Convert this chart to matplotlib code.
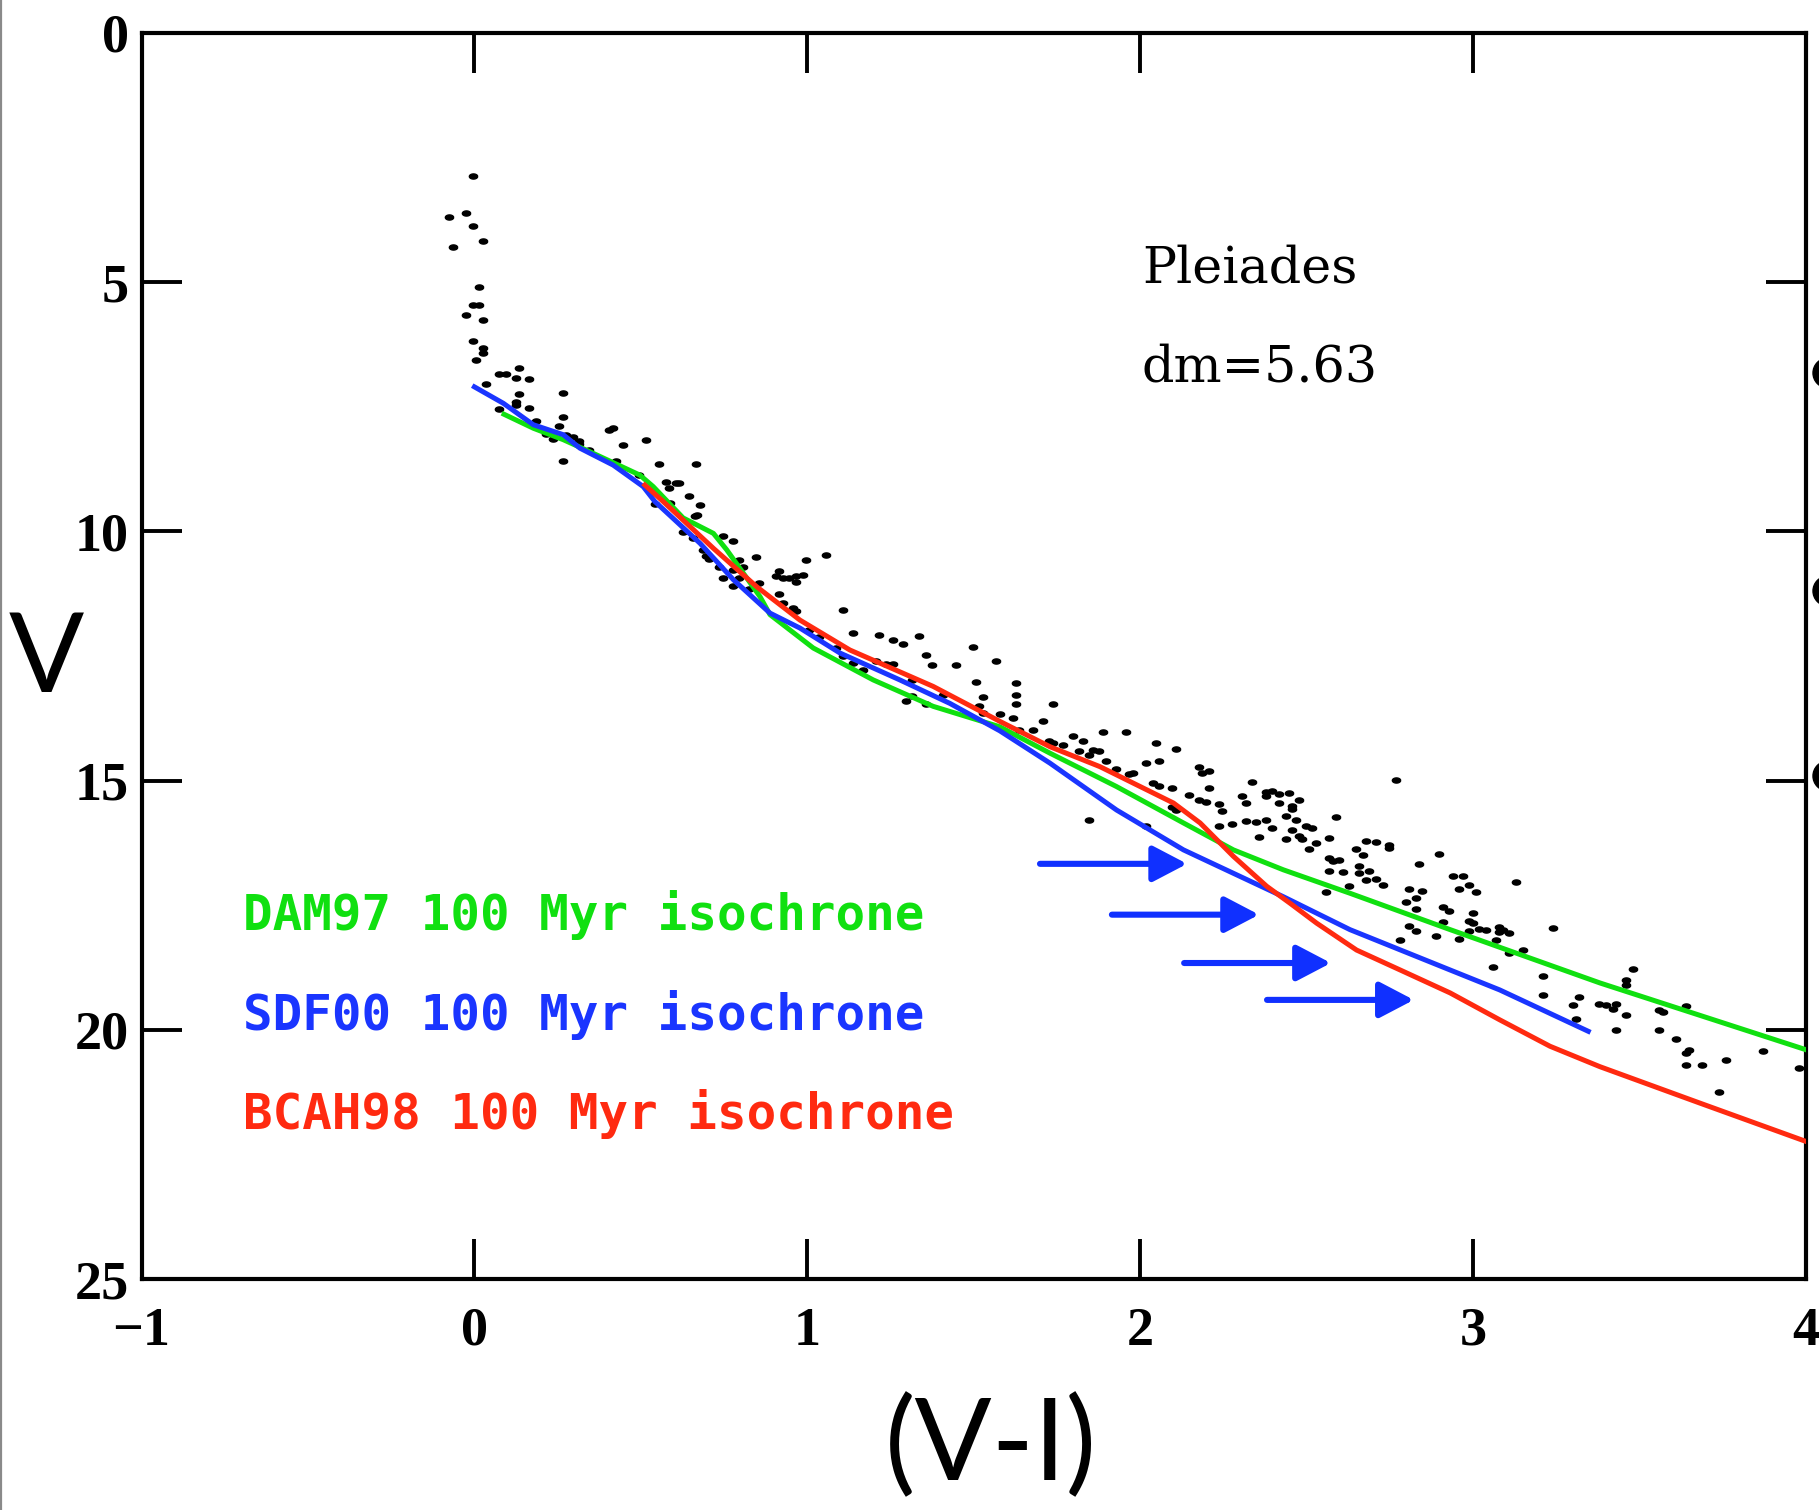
import numpy as np
import matplotlib
matplotlib.use('Agg')
import matplotlib.pyplot as plt
from matplotlib.patches import Ellipse
from matplotlib.lines import Line2D

# ---------------- data ----------------
star_x = [-0.005, -0.075, -0.026, -0.005, -0.065, 0.025, 0.015, -0.005, 0.015, -0.025, 0.025, -0.005,
          0.025, 0.025, 0.005, 0.075, 0.095, 0.135, 0.125, 0.165, 0.035, 0.135, 0.125, 0.125, 0.075,
          0.165, 0.265, 0.185, 0.265, 0.255, 0.215, 0.235, 0.275, 0.295, 0.315, 0.315, 0.265, 0.345,
          0.405, 0.415, 0.445, 0.515, 0.425, 0.495, 0.555, 0.665, 0.575, 0.605, 0.615, 0.585, 0.645,
          0.543, 0.588, 0.678, 0.668, 0.663, 0.626, 0.656, 0.746, 0.776, 0.686, 0.696, 0.706, 0.796,
          0.846, 0.996, 1.056, 0.736, 0.776, 0.806, 0.916, 0.906, 0.926, 0.946, 0.966, 0.986, 0.966,
          0.746, 0.796, 0.776, 0.856, 0.826, 0.916, 0.926, 0.956, 0.966, 1.106, 1.006, 1.036, 1.136,
          1.216, 1.256, 1.286, 1.336, 1.086, 1.106, 1.356, 1.376, 1.447, 1.497, 1.567, 1.136, 1.166,
          1.206, 1.236, 1.256, 1.316, 1.296, 1.316, 1.356, 1.407, 1.507, 1.527, 1.517, 1.527,
          1.627, 1.627, 1.627, 1.737, 1.579, 1.617, 1.707, 1.637, 1.677, 1.727, 1.737, 1.767, 1.797,
          1.827, 1.817, 1.847, 1.857, 1.877, 1.887, 1.957, 1.897, 1.927, 1.967, 1.977, 1.847, 2.017,
          2.057, 2.047, 2.107, 2.037, 2.057, 2.097, 2.097, 2.107, 2.017, 2.147, 2.177, 2.177, 2.187,
          2.207, 2.207, 2.197, 2.237, 2.247, 2.237, 2.277, 2.317, 2.307, 2.317, 2.337, 2.347, 2.377,
          2.397, 2.377, 2.417, 2.447, 2.417, 2.457, 2.457, 2.477, 2.377, 2.397, 2.437, 2.467, 2.497,
          2.437, 2.457, 2.477, 2.487, 2.517, 2.527, 2.507, 2.358, 2.568, 2.588, 2.558, 2.568, 2.578,
          2.598, 2.568, 2.608, 2.628, 2.648, 2.678, 2.708, 2.668, 2.658, 2.688, 2.658, 2.678, 2.708,
          2.728, 2.748, 2.748, 2.768,
          2.898, 2.838, 2.939, 2.969, 3.129, 2.808, 2.848, 2.959, 2.989, 3.009, 2.828, 2.798, 2.828,
          2.909, 2.929, 2.999, 2.909, 2.989, 2.999, 2.808, 2.828, 2.888, 2.959, 2.989, 3.019, 3.039,
          3.079, 3.089, 3.079, 3.109, 3.069, 3.239, 2.780, 3.109, 3.149, 3.059, 3.209, 3.209, 3.479,
          3.459, 3.459, 3.319, 3.299, 3.309, 3.379, 3.399, 3.419, 3.429, 3.459, 3.429, 3.559, 3.569,
          3.559, 3.639, 3.609, 3.649, 3.639, 3.639, 3.689, 3.760, 3.740, 3.870, 3.980]
star_v = [2.87, 3.70, 3.62, 3.87, 4.30, 4.17, 5.09, 5.46, 5.46, 5.65, 5.76, 6.17,
          6.33, 6.43, 6.57, 6.84, 6.84, 6.72, 6.93, 6.95, 7.04, 7.24, 7.41, 7.46, 7.55,
          7.52, 7.22, 7.78, 7.71, 7.88, 8.05, 8.14, 8.06, 8.11, 8.18, 8.24, 8.59, 8.37,
          7.96, 7.92, 8.27, 8.16, 8.58, 8.87, 8.64, 8.65, 9.00, 9.03, 9.03, 9.13, 9.28,
          9.45, 9.43, 9.47, 9.67, 9.70, 10.02, 10.14, 10.10, 10.20, 10.37, 10.50, 10.56, 10.57,
          10.52, 10.58, 10.48, 10.71, 10.77, 10.71, 10.79, 10.89, 10.94, 10.94, 10.89, 10.87, 11.02,
          10.94, 10.94, 11.09, 11.03, 11.16, 11.26, 11.44, 11.54, 11.59, 11.57, 11.98, 12.11, 12.04,
          12.08, 12.18, 12.26, 12.10, 12.34, 12.51, 12.49, 12.69, 12.68, 12.32, 12.61, 12.64, 12.78,
          12.61, 12.66, 12.66, 12.98, 13.40, 13.31, 13.46, 13.29, 13.03, 13.33, 13.51, 13.65,
          13.05, 13.29, 13.47, 13.46, 13.66, 13.75, 13.80, 13.98, 13.98, 14.20, 14.24, 14.28, 14.10,
          14.20, 14.40, 14.48, 14.38, 14.40, 14.02, 14.02, 14.60, 14.76, 14.86, 14.84, 15.80, 14.64,
          14.60, 14.25, 14.37, 15.04, 15.10, 15.15, 15.53, 15.59, 15.91, 15.29, 15.39, 14.73, 14.84,
          14.80, 15.15, 15.42, 15.47, 15.62, 15.92, 15.87, 15.82, 15.31, 15.44, 15.02, 15.84, 15.22,
          15.21, 15.31, 15.27, 15.24, 15.45, 15.51, 15.57, 15.39, 15.80, 15.95, 15.72, 15.80, 15.92,
          16.18, 15.99, 16.12, 16.18, 15.95, 16.26, 16.38, 16.14, 16.16, 15.74, 17.24, 16.56, 16.62,
          16.60, 16.81, 16.84, 17.11, 16.38, 16.22, 16.24, 16.49, 16.71, 16.82, 16.86, 16.99, 16.98,
          17.09, 16.29, 16.36, 14.98,
          16.47, 16.67, 16.91, 16.92, 17.04, 17.18, 17.22, 17.18, 17.09, 17.24, 17.35, 17.44, 17.57,
          17.54, 17.61, 17.65, 17.84, 17.81, 17.86, 17.91, 18.01, 18.11, 18.18, 18.01, 17.98, 17.99,
          17.94, 17.99, 18.03, 18.06, 18.19, 17.95, 18.19, 18.46, 18.40, 18.74, 18.92, 19.30, 18.78,
          19.01, 19.10, 19.34, 19.51, 19.78, 19.48, 19.50, 19.59, 19.48, 19.71, 20.00, 19.61, 19.65,
          20.01, 19.52, 20.18, 20.41, 20.47, 20.71, 20.71, 20.61, 21.25, 20.42, 20.76]

dam97_x = [0.089, 0.177, 0.267, 0.33, 0.497, 0.537, 0.627, 0.718, 0.758, 0.858, 0.888, 1.018,
           1.198, 1.378, 1.578, 1.729, 1.929, 2.130, 2.280, 2.430, 2.630, 2.931, 3.381, 4.0]
dam97_v = [7.65, 7.93, 8.16, 8.35, 8.87, 9.10, 9.73, 10.04, 10.37, 11.31, 11.67, 12.34,
           12.98, 13.51, 13.92, 14.45, 15.12, 15.85, 16.39, 16.79, 17.26, 17.99, 19.06, 20.40]

sdf00_x = [0.0, 0.087, 0.177, 0.267, 0.317, 0.417, 0.507, 0.542, 0.678, 0.778, 0.888, 0.978,
           1.098, 1.278, 1.428, 1.578, 1.729, 1.829, 1.929, 2.130, 2.280, 2.430, 2.630, 2.931,
           3.080, 3.346]
sdf00_v = [7.10, 7.43, 7.86, 8.06, 8.33, 8.67, 9.10, 9.40, 10.24, 10.97, 11.64, 11.94,
           12.44, 12.98, 13.45, 14.00, 14.65, 15.12, 15.59, 16.39, 16.86, 17.33, 17.99, 18.80,
           19.20, 20.03]

bcah98_x = [0.512, 0.567, 0.718, 0.848, 0.978, 1.128, 1.378, 1.578, 1.729, 1.879, 2.100, 2.180,
            2.280, 2.380, 2.450, 2.530, 2.650, 2.781, 2.931, 3.080, 3.231, 3.381, 3.681, 4.0]
bcah98_v = [9.07, 9.40, 10.34, 11.11, 11.78, 12.38, 13.11, 13.81, 14.32, 14.72, 15.45, 15.85,
            16.52, 17.12, 17.46, 17.86, 18.40, 18.80, 19.26, 19.80, 20.33, 20.74, 21.47, 22.24]

arrow_x0 = [1.699, 1.915, 2.132, 2.381]
arrow_x1 = [2.141, 2.357, 2.573, 2.822]
arrow_v = [16.67, 17.69, 18.66, 19.40]

legend_labels = ['DAM97 100 Myr isochrone', 'SDF00 100 Myr isochrone', 'BCAH98 100 Myr isochrone']
xticks = [-1, 0, 1, 2, 3, 4]
yticks = [0, 5, 10, 15, 20, 25]

GREEN = '#10e010'
BLUE = '#1a35ff'
RED = '#ff2a10'
ARROW = '#1030ff'

# ---------------- figure ----------------
fig = plt.figure(figsize=(18.19, 15.10), dpi=100)
ax = fig.add_axes([0.07779, 0.15298, 0.91506, 0.82517])
ax.set_xlim(-1, 4)
ax.set_ylim(25, 0)

t = np.linspace(0, 2 * np.pi, 25)
ell = np.column_stack([np.cos(t), 0.62 * np.sin(t)])
ax.plot(star_x, star_v, linestyle='none', marker=ell, ms=6, color='black', zorder=2)

ax.plot(dam97_x, dam97_v, color=GREEN, lw=3.6, solid_joinstyle='round', zorder=3)
ax.plot(sdf00_x, sdf00_v, color=BLUE, lw=3.6, solid_joinstyle='round', zorder=3)
ax.plot(bcah98_x, bcah98_v, color=RED, lw=3.6, solid_joinstyle='round', zorder=4)

for x0, x1, v in zip(arrow_x0, arrow_x1, arrow_v):
    ax.annotate('', xy=(x1, v), xytext=(x0, v),
                arrowprops=dict(arrowstyle='-|>,head_length=1.05,head_width=0.55',
                                mutation_scale=20, lw=4.4, color=ARROW,
                                shrinkA=0, shrinkB=0), zorder=5)

for lab, col, v in zip(legend_labels, [GREEN, BLUE, RED], [18, 20, 22]):
    ax.text(-0.695, v, lab, color=col, fontfamily='DejaVu Sans Mono', fontweight='bold',
            fontsize=35.4, ha='left', va='baseline')

ax.text(2.005, 5.0, 'Pleiades', fontfamily='DejaVu Serif', fontsize=36.5, ha='left', va='baseline')
ax.text(2.005, 7.0, 'dm=5.63', fontfamily='DejaVu Serif', fontsize=36.5, ha='left', va='baseline')

ax.set_xticks(xticks)
ax.set_yticks(yticks)
ax.set_xticklabels([str(v).replace('-', '\u2212') for v in xticks])
ax.set_yticklabels([str(v) for v in yticks])
ax.tick_params(axis='both', which='major', direction='in', length=29, width=2.8,
               top=True, right=True, labelsize=39)
ax.tick_params(axis='x', pad=20)
ax.tick_params(axis='y', pad=9)
for lab in ax.get_xticklabels() + ax.get_yticklabels():
    lab.set_fontfamily('Liberation Serif')
    lab.set_fontweight('bold')
for s in ax.spines.values():
    s.set_linewidth(3)

fig.text(46 / 1819, 1 - 661 / 1510, 'V', fontfamily='Lato', fontsize=80,
         ha='center', va='center')
fig.text(991 / 1819, 1 - 1447 / 1510, '(V-I)', fontfamily='Lato', fontsize=82,
         ha='center', va='center')

# slide decorations: left border and cut-off bullets at the right edge
fig.add_artist(Line2D([1.2 / 1819, 1.2 / 1819], [0, 1], transform=fig.transFigure,
                      color='#8a8a8a', lw=1.6))
for yb in [373, 591, 776]:
    fig.add_artist(Ellipse((1828 / 1819, 1 - yb / 1510), 30 / 1819, 30 / 1510,
                           transform=fig.transFigure, color='black'))

fig.savefig('out.png', dpi=100)
